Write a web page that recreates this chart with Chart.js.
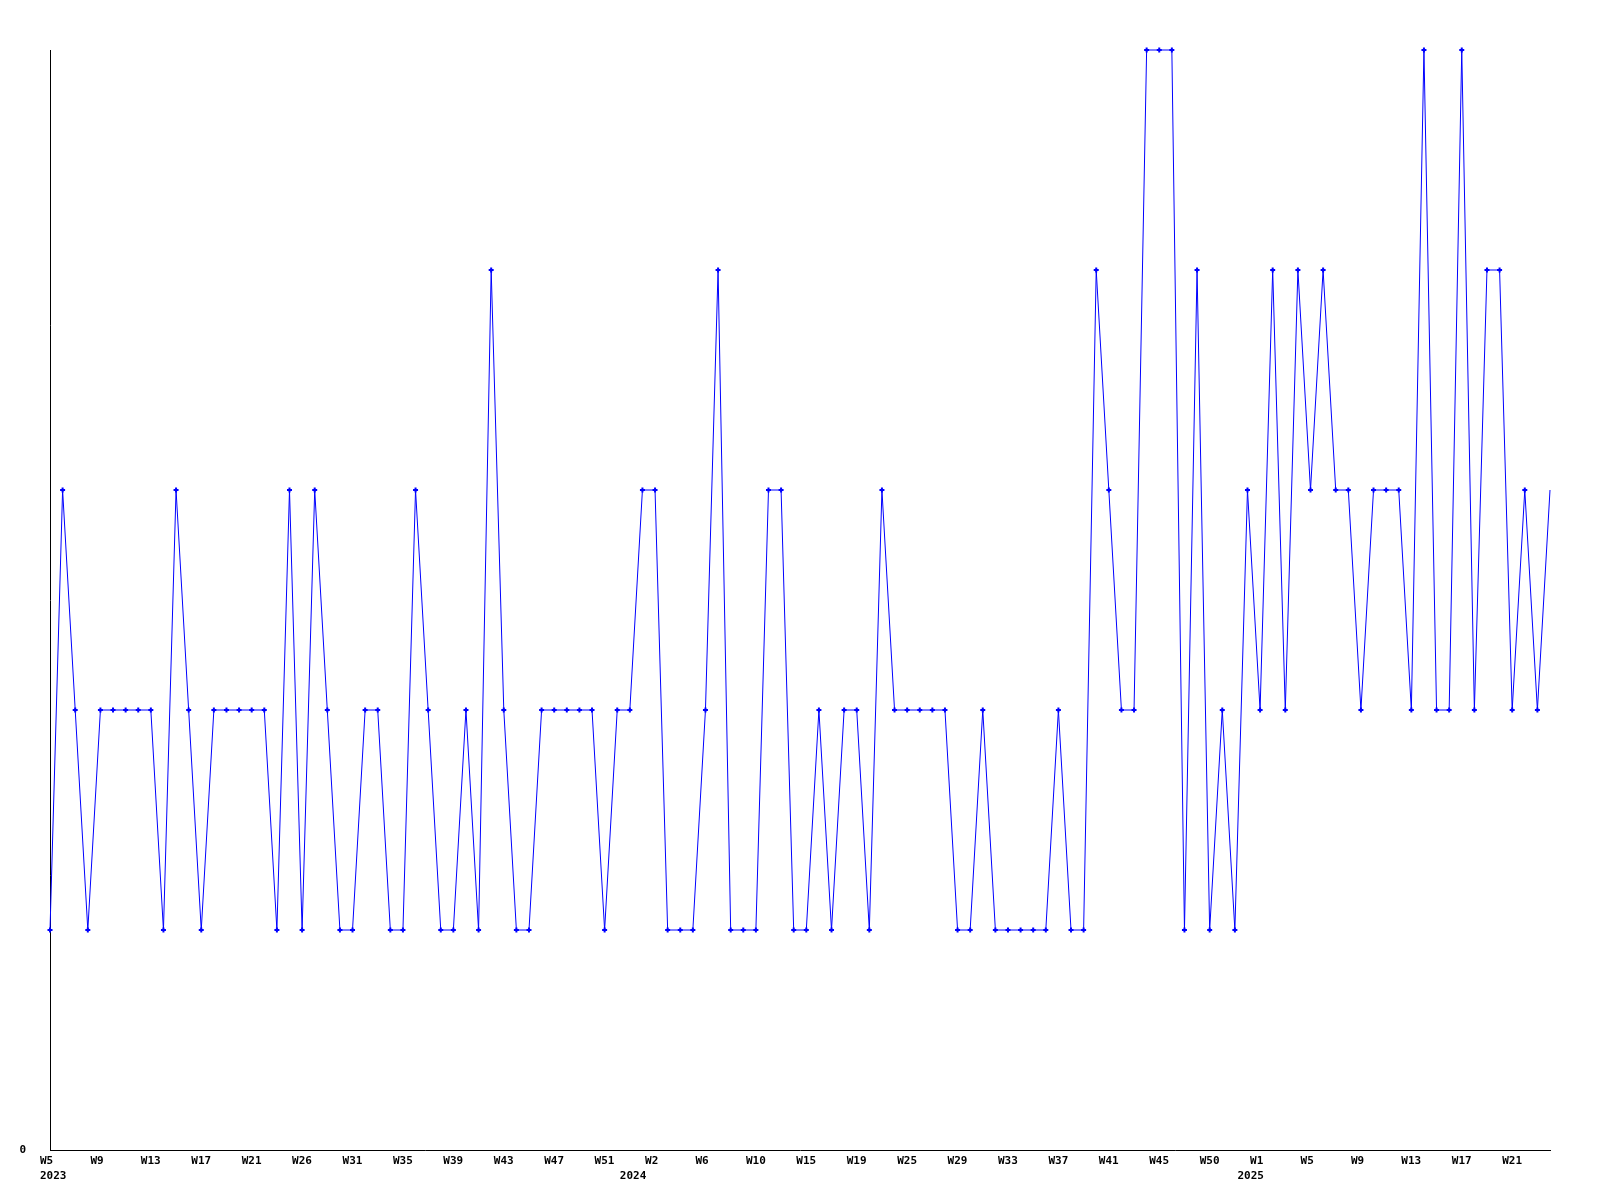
<!DOCTYPE html>
<html>
<head>
<meta charset="utf-8">
<script src="https://cdn.jsdelivr.net/npm/chart.js@4/dist/chart.umd.min.js"></script>
<style>
  html, body { margin: 0; padding: 0; background: #fff; }
  #chart { display: block; }
</style>
</head>
<body>
<canvas id="chart" width="1600" height="1200"></canvas>
<script>
// weekly categories (Sunday-based week numbers, W0 = first days of a new year)
const weeks = [
  'W5','W6','W7','W8','W9','W10','W11','W12','W13','W14','W15','W16','W17','W18','W19','W20',
  'W21','W22','W23','W24','W26','W27','W28','W29','W31','W32','W33','W34','W35','W36','W37','W38',
  'W39','W40','W41','W42','W43','W44','W45','W46','W47','W48','W49','W50','W51','W52',
  'W0','W1','W2','W3','W4','W5','W6','W7','W8','W9','W10','W11','W12','W13','W15','W16','W17','W18',
  'W19','W20','W21','W23','W25','W26','W27','W28','W29','W30','W31','W32','W33','W34','W35','W36',
  'W37','W38','W39','W40','W41','W42','W43','W44','W45','W46','W47','W48','W50','W51','W52',
  'W0','W1','W2','W3','W4','W5','W6','W7','W8','W9','W10','W11','W12','W13','W14','W15','W16',
  'W17','W18','W19','W20','W21','W22','W23','W24'
];
const firstYear = 2023;
const counts = [
  1,3,2,1,2,2,2,2,2,1, 3,2,1,2,2,2,2,2,1,3,
  1,3,2,1,1,2,2,1,1,3, 2,1,1,2,1,4,2,1,1,2,
  2,2,2,2,1,2,2,3,3,1, 1,1,2,4,1,1,1,3,3,1,
  1,2,1,2,2,1,3,2,2,2, 2,2,1,1,2,1,1,1,1,1,
  2,1,1,4,3,2,2,5,5,5, 1,4,1,2,1,3,2,4,2,4,
  3,4,3,3,2,3,3,3,2,5, 2,2,5,2,4,4,2,3,2,3
];
const yMin = 0;
const yMax = 5;
const tickEvery = 4;

// year of each point (week number drops -> new year)
const years = [];
weeks.forEach((w, i) => {
  const n = parseInt(w.slice(1));
  const prev = i > 0 ? parseInt(weeks[i - 1].slice(1)) : n;
  years.push(i === 0 ? firstYear : (n < prev ? years[i - 1] + 1 : years[i - 1]));
});

const FONT = { family: "'DejaVu Sans Mono', 'Liberation Mono', monospace", size: 11, weight: 'bold', lineHeight: 1.35 };

new Chart(document.getElementById('chart'), {
  type: 'line',
  data: {
    labels: weeks,
    datasets: [{
      data: counts,
      borderColor: '#0000ff',
      backgroundColor: '#0000ff',
      borderWidth: 1,
      tension: 0,
      clip: false,
      pointStyle: 'cross',
      pointRadius: ctx => (ctx.dataIndex === counts.length - 1 ? 0 : 2.5),
      pointBorderWidth: 2,
      pointBorderColor: '#0000ff'
    }]
  },
  options: {
    responsive: false,
    animation: false,
    devicePixelRatio: 1,
    layout: { padding: { top: 50, right: 50, left: 0, bottom: 0 } },
    plugins: { legend: { display: false }, tooltip: { enabled: false } },
    scales: {
      x: {
        grid: { display: false, drawTicks: false },
        border: { color: '#000', width: 1 },
        afterFit: s => { s.height = 50; },
        ticks: {
          autoSkip: false,
          maxRotation: 0,
          align: 'start',
          labelOffset: -10,
          padding: 4,
          color: '#000',
          font: FONT,
          callback: function (value, index) {
            const newYear = index === 0 || years[index] !== years[index - 1];
            const w = index % tickEvery === 0 ? this.getLabelForValue(value) : '';
            if (newYear) return [w, String(years[index])];
            return w;
          }
        }
      },
      y: {
        min: yMin,
        max: yMax,
        grid: { display: false, drawTicks: false },
        border: { color: '#000', width: 1 },
        afterFit: s => { s.width = 50; },
        ticks: {
          stepSize: 1,
          padding: 24,
          color: '#000',
          font: FONT,
          callback: v => (v === 0 ? '0' : '')
        }
      }
    }
  }
});
</script>
</body>
</html>
